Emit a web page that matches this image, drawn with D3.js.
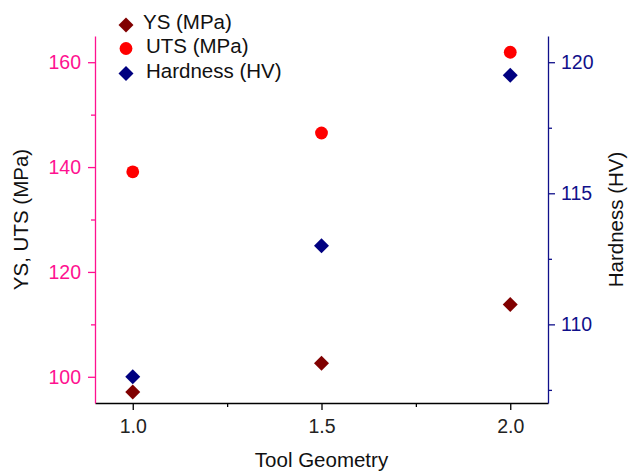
<!DOCTYPE html>
<html>
<head>
<meta charset="utf-8">
<script src="https://cdn.jsdelivr.net/npm/d3@7"></script>
<style>
  body { margin: 0; background: #fff; }
  svg { display: block; font-family: "Liberation Sans", Arial, sans-serif; }
</style>
</head>
<body>
<svg id="chart" width="630" height="472"></svg>
<script>
// data
var geometry = [1.0, 1.5, 2.0]
var ys = [97.1, 102.6, 113.8]
var uts = [139.1, 146.5, 161.9]
var hardness = [108.0, 113.0, 119.5]

var leftTicks = [100, 120, 140, 160]
var leftMinor = [110, 130, 150]
var rightTicks = [110, 115, 120]
var rightMinor = [107.5, 112.5, 117.5]
var xTicks = [1.0, 1.5, 2.0]
var xMinor = [1.25, 1.75]

var pink = "#ff1190"
var navy = "#10108a"

const margin = {top: 36, right: 82, bottom: 69, left: 95}
const width = 630 - margin.left - margin.right
const height = 472 - margin.top - margin.bottom

const svg = d3.select('#chart')
  .append("g")
  .attr("transform", "translate(" + margin.left + "," + margin.top + ")")

var x = d3.scaleLinear().domain([0.9, 2.1]).range([0, width])
var yL = d3.scaleLinear().domain([95, 165]).range([height, 0])
var yR = d3.scaleLinear().domain([107, 121]).range([height, 0])

function styleAxis(g, color) {
  g.selectAll("path").attr("stroke", color).attr("stroke-width", 1.3)
  g.selectAll("line").attr("stroke", color).attr("stroke-width", 1.3)
  g.selectAll("text").attr("fill", color).style("font-size", "19.5px")
}

// x axis
var gx = svg.append("g").attr("transform", "translate(0," + height + ")")
gx.call(d3.axisBottom(x).tickValues(xTicks).tickFormat(d3.format(".1f")).tickSize(7).tickSizeOuter(0).tickPadding(9))
styleAxis(gx, "#000")
gx.selectAll("text").attr("fill", "#222")
svg.append("g").attr("transform", "translate(0," + height + ")")
  .call(d3.axisBottom(x).tickValues(xMinor).tickFormat("").tickSize(4).tickSizeOuter(0))
  .call(g => { g.select("path").remove(); g.selectAll("line").attr("stroke", "#000").attr("stroke-width", 1.3) })

// left axis
var gl = svg.append("g")
gl.call(d3.axisLeft(yL).tickValues(leftTicks).tickSize(7).tickSizeOuter(0).tickPadding(7))
styleAxis(gl, pink)
svg.append("g")
  .call(d3.axisLeft(yL).tickValues(leftMinor).tickFormat("").tickSize(4).tickSizeOuter(0))
  .call(g => { g.select("path").remove(); g.selectAll("line").attr("stroke", pink).attr("stroke-width", 1.3) })

// right axis
var gr = svg.append("g").attr("transform", "translate(" + width + ",0)")
gr.call(d3.axisRight(yR).tickValues(rightTicks).tickSize(7).tickSizeOuter(0).tickPadding(6))
styleAxis(gr, navy)
svg.append("g").attr("transform", "translate(" + width + ",0)")
  .call(d3.axisRight(yR).tickValues(rightMinor).tickFormat("").tickSize(4).tickSizeOuter(0))
  .call(g => { g.select("path").remove(); g.selectAll("line").attr("stroke", navy).attr("stroke-width", 1.3) })

// axis titles
svg.append("text")
  .attr("x", width / 2)
  .attr("y", height + 64)
  .attr("text-anchor", "middle")
  .style("font-size", "20.5px")
  .attr("fill", "#111")
  .text("Tool Geometry")

svg.append("text")
  .attr("transform", "translate(" + (28 - margin.left) + "," + (height / 2) + ") rotate(-90)")
  .attr("text-anchor", "middle")
  .style("font-size", "20.5px")
  .attr("fill", "#111")
  .text("YS, UTS (MPa)")

svg.append("text")
  .attr("transform", "translate(" + (width + 623 - 548) + "," + (height / 2) + ") rotate(-90)")
  .attr("text-anchor", "middle")
  .style("font-size", "20.5px")
  .attr("fill", "#111")
  .text("Hardness (HV)")

var diamond = d3.symbol().type(d3.symbolSquare).size(112)

// YS
svg.append("g").selectAll("path")
  .data(d3.zip(geometry, ys))
  .enter().append("path")
  .attr("d", diamond)
  .attr("transform", d => "translate(" + x(d[0]) + "," + yL(d[1]) + ") rotate(45)")
  .attr("fill", "#800000")

// UTS
svg.append("g").selectAll("circle")
  .data(d3.zip(geometry, uts))
  .enter().append("circle")
  .attr("cx", d => x(d[0]))
  .attr("cy", d => yL(d[1]))
  .attr("r", 6.4)
  .attr("fill", "#ff0000")

// Hardness
svg.append("g").selectAll("path")
  .data(d3.zip(geometry, hardness))
  .enter().append("path")
  .attr("d", diamond)
  .attr("transform", d => "translate(" + x(d[0]) + "," + yR(d[1]) + ") rotate(45)")
  .attr("fill", "#000080")

// legend
var legend = [
  {name: "YS (MPa)", shape: "d", color: "#800000", y: 25},
  {name: "UTS (MPa)", shape: "c", color: "#ff0000", y: 48.5},
  {name: "Hardness (HV)", shape: "d", color: "#000080", y: 73.5}
]
var lg = d3.select('#chart').append("g")
legend.forEach(function(l) {
  if (l.shape == "d") {
    lg.append("path").attr("d", diamond)
      .attr("transform", "translate(126," + l.y + ") rotate(45)")
      .attr("fill", l.color)
  } else {
    lg.append("circle").attr("cx", 126).attr("cy", l.y).attr("r", 6.4).attr("fill", l.color)
  }
  lg.append("text")
    .attr("x", l.name == "YS (MPa)" ? 143 : 146)
    .attr("y", l.y + 4)
    .style("font-size", "20.5px")
    .attr("fill", "#111")
    .text(l.name)
})
</script>
</body>
</html>
